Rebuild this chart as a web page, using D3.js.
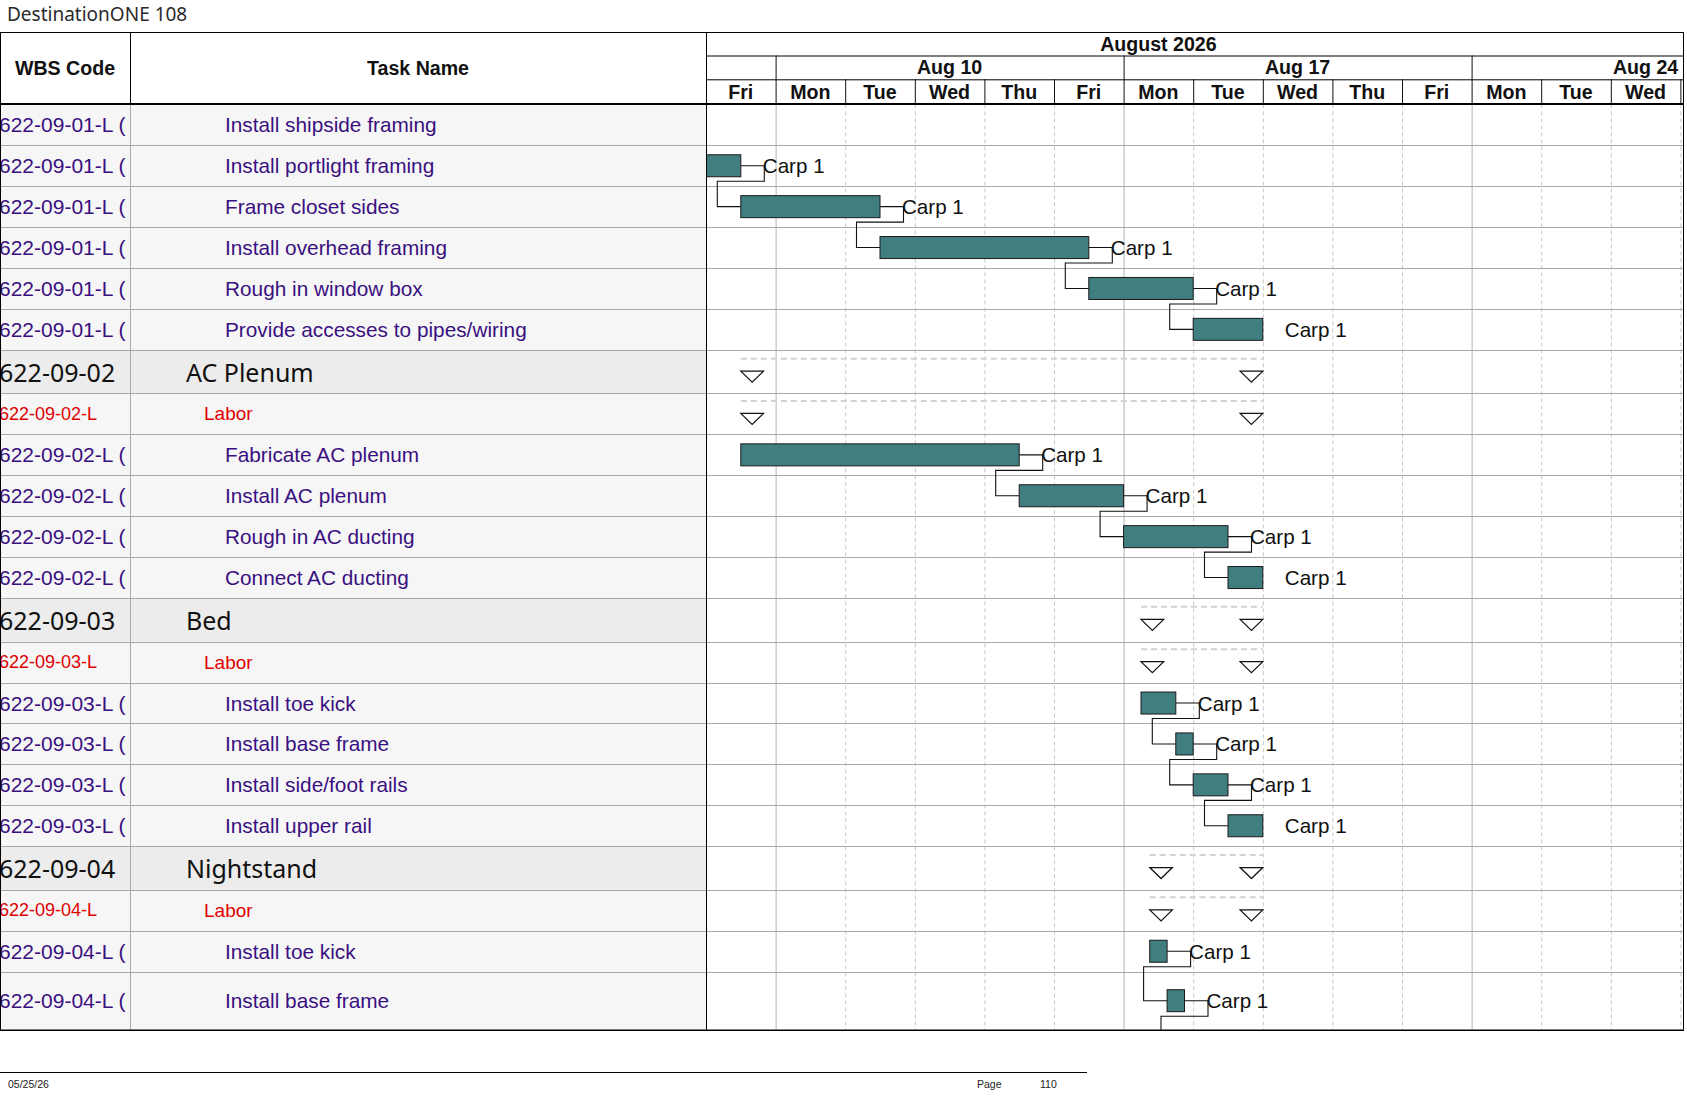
<!DOCTYPE html>
<html>
<head>
<meta charset="utf-8">
<script src="https://cdn.jsdelivr.net/npm/d3@7"></script>
<style>
  html, body { margin: 0; padding: 0; background: #fff; }
  svg { display: block; }
  text { font-family: "Liberation Sans", Arial, sans-serif; }
</style>
</head>
<body>
<svg id="gantt"></svg>
<script>
// timescale in working days, counted from Fri Aug 7 2026 (weekends are hidden)
const dayLabels  = ['Fri', 'Mon', 'Tue', 'Wed', 'Thu', 'Fri', 'Mon', 'Tue', 'Wed', 'Thu', 'Fri', 'Mon', 'Tue', 'Wed'];
const weekLabels = ['Aug 3', 'Aug 10', 'Aug 17', 'Aug 24'];
const weekStarts = [-4, 1, 6, 11];
const monthLabel = 'August 2026';
const monthSpan  = [-4, 17];

const wbsCodes = [
  '622-09-01-L (', '622-09-01-L (', '622-09-01-L (', '622-09-01-L (', '622-09-01-L (', '622-09-01-L (',
  '622-09-02', '622-09-02-L', '622-09-02-L (', '622-09-02-L (', '622-09-02-L (', '622-09-02-L (',
  '622-09-03', '622-09-03-L', '622-09-03-L (', '622-09-03-L (', '622-09-03-L (', '622-09-03-L (',
  '622-09-04', '622-09-04-L', '622-09-04-L (', '622-09-04-L (', '622-09-04-L ('
];
const taskNames = [
  'Install shipside framing', 'Install portlight framing', 'Frame closet sides', 'Install overhead framing',
  'Rough in window box', 'Provide accesses to pipes/wiring',
  'AC Plenum', 'Labor', 'Fabricate AC plenum', 'Install AC plenum', 'Rough in AC ducting', 'Connect AC ducting',
  'Bed', 'Labor', 'Install toe kick', 'Install base frame', 'Install side/foot rails', 'Install upper rail',
  'Nightstand', 'Labor', 'Install toe kick', 'Install base frame', 'Install side/foot rails'
];
const rowTypes = [
  'task', 'task', 'task', 'task', 'task', 'task',
  'summary', 'labor', 'task', 'task', 'task', 'task',
  'summary', 'labor', 'task', 'task', 'task', 'task',
  'summary', 'labor', 'task', 'task', 'task'
];
// start / finish in working days (null = outside the printed window)
const starts   = [null, 0, 0.5, 2.5, 5.5, 7.0, 0.5, 0.5, 0.5, 4.5, 6.0, 7.5,
                  6.25, 6.25, 6.25, 6.75, 7.0, 7.5, 6.375, 6.375, 6.375, 6.625, 6.875];
const finishes = [null, 0.5, 2.5, 5.5, 7.0, 8.0, 8.0, 8.0, 4.5, 6.0, 7.5, 8.0,
                  8.0, 8.0, 6.75, 7.0, 7.5, 8.0, 8.0, 8.0, 6.625, 6.875, 7.125];
const resources = [null, 'Carp 1', 'Carp 1', 'Carp 1', 'Carp 1', 'Carp 1', null, null,
                   'Carp 1', 'Carp 1', 'Carp 1', 'Carp 1', null, null,
                   'Carp 1', 'Carp 1', 'Carp 1', 'Carp 1', null, null, 'Carp 1', 'Carp 1', 'Carp 1'];
// finish-to-start predecessor (row index)
const predecessors = [null, null, 1, 2, 3, 4, null, null, null, 8, 9, 10,
                      null, null, null, 14, 15, 16, null, null, null, 20, 21];

// --- layout ---
const W = 1687, H = 1097;
const colWbs = 130, colChart = 706, chartEnd = 1684;
const headY = [32, 55.5, 79.3, 104];
const bodyTop = 104.4, bodyBottom = 1029.7;
const rowH = { task: 40.9, labor: 40.9, summary: 43.7 };

const svg = d3.select('#gantt').attr('width', W).attr('height', H);

const x = d3.scaleLinear()
  .domain([0, dayLabels.length])
  .range([colChart, 1680.4]);

// rows stacked from the header down; the last one that fits is stretched to the table bottom
const rows = [];
let yCursor = bodyTop;
rowTypes.forEach((t, i) => {
  let h = rowH[t];
  const nextT = rowTypes[i + 1];
  if (yCursor < bodyBottom && nextT && yCursor + h + rowH[nextT] > bodyBottom) h = bodyBottom - yCursor;
  rows.push({
    i, type: t, wbs: wbsCodes[i], name: taskNames[i], top: yCursor, h, mid: yCursor + h / 2,
    start: starts[i], finish: finishes[i], res: resources[i], pred: predecessors[i]
  });
  yCursor += h;
});
const visible = rows.filter(r => r.top < bodyBottom);

const defs = svg.append('defs');
defs.append('clipPath').attr('id', 'clip-wbs')
  .append('rect').attr('x', 0).attr('y', bodyTop).attr('width', colWbs).attr('height', bodyBottom - bodyTop);
defs.append('clipPath').attr('id', 'clip-body')
  .append('rect').attr('x', colChart).attr('y', bodyTop).attr('width', chartEnd - colChart).attr('height', bodyBottom - bodyTop);
defs.append('clipPath').attr('id', 'clip-head')
  .append('rect').attr('x', colChart).attr('y', headY[0]).attr('width', chartEnd - colChart).attr('height', headY[3] - headY[0]);

// --- title ---
svg.append('text')
  .attr('x', 7).attr('y', 21)
  .style('font-family', '"Noto Sans", sans-serif')
  .style('font-size', '19px')
  .style('fill', '#2a2a2a')
  .text('DestinationONE 108');

// --- left table body ---
const body = svg.append('g');
body.selectAll('rect.rowbg')
  .data(visible)
  .join('rect')
  .attr('class', 'rowbg')
  .attr('x', 0).attr('y', d => d.top)
  .attr('width', colChart).attr('height', d => d.h)
  .attr('fill', d => d.type === 'summary' ? '#ececec' : '#f6f6f6');

// --- chart grid ---
const grid = svg.append('g').attr('clip-path', 'url(#clip-body)');
const dayIdx = d3.range(1, dayLabels.length + 1);
grid.selectAll('line.day')
  .data(dayIdx)
  .join('line')
  .attr('x1', d => x(d) + 0.5).attr('x2', d => x(d) + 0.5)
  .attr('y1', bodyTop).attr('y2', bodyBottom)
  .attr('stroke', d => weekStarts.includes(d) ? '#b4b4b4' : '#c6c6c6')
  .attr('stroke-dasharray', d => weekStarts.includes(d) ? null : '4,3');

// row lines
svg.append('g').selectAll('line')
  .data(visible.slice(0, -1))
  .join('line')
  .attr('x1', 0).attr('x2', chartEnd)
  .attr('y1', d => Math.round(d.top + d.h) + 0.5).attr('y2', d => Math.round(d.top + d.h) + 0.5)
  .attr('stroke', '#a9a9a9');

svg.append('line')
  .attr('x1', colWbs + 0.5).attr('x2', colWbs + 0.5)
  .attr('y1', bodyTop).attr('y2', bodyBottom)
  .attr('stroke', '#a9a9a9');

// --- table text ---
const textColor = d => d.type === 'summary' ? '#111' : d.type === 'labor' ? '#e00000' : '#3a1080';
const wbsSize = { task: '21px', labor: '18px', summary: '25px' };
const nameSize = { task: '20.8px', labor: '19px', summary: '25px' };
const nameX = { task: 225, labor: 204, summary: 186 };
const fam = d => d.type === 'summary' ? '"Noto Sans", sans-serif' : '"Liberation Sans", Arial, sans-serif';

svg.append('g').attr('clip-path', 'url(#clip-wbs)')
  .selectAll('text')
  .data(visible)
  .join('text')
  .attr('x', -1).attr('y', d => d.mid)
  .attr('dominant-baseline', 'central')
  .style('font-family', fam)
  .style('font-size', d => wbsSize[d.type])
  .style('fill', textColor)
  .text(d => d.wbs);

svg.append('g')
  .selectAll('text')
  .data(visible)
  .join('text')
  .attr('x', d => nameX[d.type]).attr('y', d => d.mid)
  .attr('dominant-baseline', 'central')
  .style('font-family', fam)
  .style('font-size', d => nameSize[d.type])
  .style('fill', textColor)
  .text(d => d.name);

// --- bars, summary markers, links ---
const gantt = svg.append('g').attr('clip-path', 'url(#clip-body)');
const barH = 22, gap = 23.5, tri = { w: 22.7, h: 11 };
const tasks = rows.filter(r => r.type === 'task' && r.start !== null);
const sums = rows.filter(r => r.type !== 'task' && r.start !== null);
const byIdx = new Map(rows.map(r => [r.i, r]));

// summary dashed span + end triangles
gantt.selectAll('line.span')
  .data(sums)
  .join('line')
  .attr('class', 'span')
  .attr('x1', d => x(d.start)).attr('x2', d => x(d.finish))
  .attr('y1', d => d.mid - 13).attr('y2', d => d.mid - 13)
  .attr('stroke', '#d2d2d2').attr('stroke-width', 2).attr('stroke-dasharray', '6,4');

const triPath = (x0, y0) => `M${x0},${y0}L${x0 + tri.w},${y0}L${x0 + tri.w / 2},${y0 + tri.h}Z`;
gantt.selectAll('path.tri')
  .data(sums.flatMap(d => [{ x0: x(d.start), y0: d.mid - 0.5 }, { x0: x(d.finish) - tri.w, y0: d.mid - 0.5 }]))
  .join('path')
  .attr('class', 'tri')
  .attr('d', d => triPath(d.x0, d.y0))
  .attr('fill', '#fff').attr('stroke', '#111').attr('stroke-width', 1.2);

// finish-to-start links
const links = tasks.filter(d => d.pred !== null).map(d => ({ from: byIdx.get(d.pred), to: d }));
gantt.selectAll('path.link')
  .data(links)
  .join('path')
  .attr('class', 'link')
  .attr('d', ({ from, to }) => {
    const xe = x(from.finish), xs = x(to.start);
    return `M${xe},${from.mid}H${xe + gap}V${from.mid + barH / 2 + 4.5}H${xs - gap}V${to.mid}H${xs}`;
  })
  .attr('fill', 'none').attr('stroke', '#111').attr('stroke-width', 1.1);

gantt.selectAll('rect.bar')
  .data(tasks)
  .join('rect')
  .attr('class', 'bar')
  .attr('x', d => x(d.start)).attr('y', d => d.mid - barH / 2)
  .attr('width', d => x(d.finish) - x(d.start)).attr('height', barH)
  .attr('fill', '#417e7f').attr('stroke', '#1a1a1a').attr('stroke-width', 1);

gantt.selectAll('text.res')
  .data(tasks.filter(d => d.res))
  .join('text')
  .attr('class', 'res')
  .attr('x', d => x(d.finish) + gap - 1.5).attr('y', d => d.mid)
  .attr('dominant-baseline', 'central')
  .style('font-size', '20.6px').style('fill', '#111')
  .text(d => d.res);

// --- header ---
const hSize = '19.6px';
const head = svg.append('g');
const hText = (g, xx, yy, t) => g.append('text')
  .attr('x', xx).attr('y', yy)
  .attr('text-anchor', 'middle').attr('dominant-baseline', 'central')
  .style('font-size', hSize).style('font-weight', 'bold').style('fill', '#111')
  .text(t);

hText(head, colWbs / 2, (headY[0] + headY[3]) / 2, 'WBS Code');
hText(head, (colWbs + colChart) / 2, (headY[0] + headY[3]) / 2, 'Task Name');

const tHead = svg.append('g').attr('clip-path', 'url(#clip-head)');
const mid = (a, b) => (a + b) / 2;
hText(tHead, x(mid(monthSpan[0], monthSpan[1])), mid(headY[0], headY[1]), monthLabel);

tHead.selectAll('text.week')
  .data(weekLabels)
  .join('text')
  .attr('x', (d, i) => x(weekStarts[i] + 2.5)).attr('y', mid(headY[1], headY[2]))
  .attr('text-anchor', 'middle').attr('dominant-baseline', 'central')
  .style('font-size', hSize).style('font-weight', 'bold').style('fill', '#111')
  .text(d => d);
tHead.selectAll('line.week')
  .data(weekStarts)
  .join('line')
  .attr('x1', d => x(d) + 0.5).attr('x2', d => x(d) + 0.5)
  .attr('y1', headY[1]).attr('y2', headY[2])
  .attr('stroke', '#111');

tHead.selectAll('text.day')
  .data(dayLabels)
  .join('text')
  .attr('x', (d, i) => x(i + 0.5)).attr('y', mid(headY[2], headY[3]))
  .attr('text-anchor', 'middle').attr('dominant-baseline', 'central')
  .style('font-size', hSize).style('font-weight', 'bold').style('fill', '#111')
  .text(d => d);
tHead.selectAll('line.day')
  .data(dayIdx)
  .join('line')
  .attr('x1', d => x(d) + 0.5).attr('x2', d => x(d) + 0.5)
  .attr('y1', headY[2]).attr('y2', headY[3])
  .attr('stroke', '#111');

// header rules
const rule = (x1, y1, x2, y2, w = 1) => svg.append('line')
  .attr('x1', x1).attr('y1', y1).attr('x2', x2).attr('y2', y2)
  .attr('stroke', '#000').attr('stroke-width', w);

rule(0, headY[0] + 0.5, chartEnd, headY[0] + 0.5);
rule(colChart, headY[1] + 0.5, chartEnd, headY[1] + 0.5);
rule(colChart, headY[2] + 0.5, chartEnd, headY[2] + 0.5);
rule(0, headY[3], chartEnd, headY[3], 2);
rule(colWbs + 0.5, headY[0], colWbs + 0.5, headY[3]);
rule(0.5, headY[0], 0.5, bodyBottom);
rule(colChart + 0.5, headY[0], colChart + 0.5, bodyBottom);
rule(chartEnd - 0.5, headY[0], chartEnd - 0.5, bodyBottom);
rule(0, bodyBottom + 0.5, chartEnd, bodyBottom + 0.5, 1.5);

// --- footer ---
rule(0, 1072.5, 1087, 1072.5);
const foot = (xx, t) => svg.append('text')
  .attr('x', xx).attr('y', 1084)
  .attr('dominant-baseline', 'central')
  .style('font-size', '10.5px').style('fill', '#222')
  .text(t);
foot(8, '05/25/26');
foot(977, 'Page');
foot(1040, '110');
</script>
</body>
</html>
